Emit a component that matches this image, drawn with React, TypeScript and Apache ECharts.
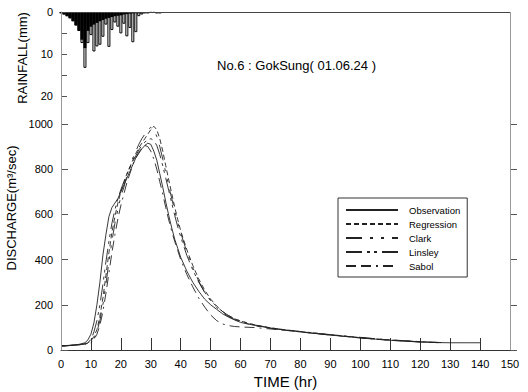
import React, { useEffect, useRef } from "react";
import * as echarts from "echarts";

// ---------- Rainfall (hourly, mm) ----------
const rainHours = [0,1,2,3,4,5,6,7,8,9,10,11,12,13,14,15,16,17,18,19,20,21,22,23,24,25,26,27,28,29,30,31,32,33];
const rainTotal = [0.3,0.6,1.0,1.5,2.2,3.2,4.5,7.4,13.3,7.4,5.5,9.4,8.2,7.8,5.9,3.0,8.3,4.3,2.5,3.5,5.1,2.8,5.8,3.8,7.2,4.8,1.0,0.6,0.3,0.3,0.2,0.2,0.3,0.3];
const rainLoss = [0.3,0.6,1.0,1.5,2.2,3.2,4.5,6.6,8.6,4.5,3.5,3.0,2.6,2.2,1.9,1.6,1.4,1.2,1.0,0.9,0.8,0.6,0.5,0.4,0.35,0.3,0.3,0.3,0.3,0.3,0.2,0.2,0.3,0.3];

// ---------- Discharge (m3/sec) ----------
const obsTimes = [0,2,4,6,8,9,10,11,12,13,14,15,16,17,18,19,20,21,22,23,24,25,26,27,28,29,30,31,32,33,34,35,36,37,38,39,40,42,44,46,48,50,52,54,56,58,60,65,70,75,80,85,90,95,100,105,110,115,120,125,130,135,140];
const observation = [18,20,22,25,32,45,70,120,200,300,420,510,590,630,650,670,700,730,760,790,820,850,870,890,905,915,910,880,840,780,720,655,595,540,490,450,410,350,300,260,225,200,180,160,145,133,122,108,97,88,80,73,66,60,53,48,43,39,35,33,32,32,32];

const modelTimes = [0,2,4,6,8,9,10,11,12,13,14,15,16,17,18,19,20,21,22,23,24,25,26,27,28,29,30,31,32,33,34,35,36,37,38,39,40,42,44,46,48,50,52,54,56,58,60,65,70,75,80,85,90,95,100,105,110,115,120,125,127];
const regression = [18,19,21,23,27,32,40,60,90,150,230,330,430,520,590,650,700,740,780,810,840,870,895,915,935,955,975,990,975,935,880,815,752,692,632,577,527,445,375,315,265,225,195,170,152,138,128,110,98,89,81,74,67,61,55,49,44,40,37,34,33];
const clark = [18,19,21,23,26,30,36,50,80,130,200,290,390,480,560,620,680,720,770,810,850,880,910,935,955,975,985,975,945,900,845,785,725,670,615,565,518,435,365,305,255,218,188,165,148,135,124,107,96,88,81,74,67,61,55,49,44,40,36,34,33];
const linsley = [18,19,21,24,28,35,45,80,130,200,290,390,480,560,620,670,710,745,775,805,835,860,885,905,920,930,935,928,905,865,815,760,705,650,595,545,500,420,355,300,255,220,192,170,152,139,128,110,98,89,82,75,68,62,56,50,45,41,37,34,33];
const sabol = [18,19,21,23,26,28,32,45,70,110,170,250,340,430,510,580,640,690,740,780,820,850,875,893,905,900,880,845,800,745,690,630,575,525,480,440,400,335,280,230,190,155,130,115,108,104,102,99,93,87,80,73,66,60,54,48,43,39,36,33,32];

const seriesNames = ["Observation", "Regression", "Clark", "Linsley", "Sabol"];
const FONT = "'Liberation Sans', Arial, sans-serif";

const pairs = (t: number[], v: number[]) => t.map((x, i) => [x, v[i]]);

export default function App() {
  const ref = useRef<HTMLDivElement>(null);
  useEffect(() => {
    if (!ref.current) return;
    const chart = echarts.init(ref.current, undefined, { renderer: "svg" });
    const lineSeries = (name: string, t: number[], v: number[], dash: any) => ({
      name,
      type: "line",
      xAxisIndex: 1,
      yAxisIndex: 1,
      data: pairs(t, v),
      symbol: "none",
      lineStyle: { color: "#222", width: 0.9, type: dash },
      z: 3,
    });
    chart.setOption({
      animation: false,
      textStyle: { fontFamily: FONT },
      title: {
        text: "No.6 : GokSung( 01.06.24 )",
        left: 217,
        top: 59,
        padding: 0,
        textStyle: { fontSize: 13, fontWeight: "normal", color: "#000", fontFamily: FONT },
      },
      legend: {
        data: seriesNames,
        orient: "vertical",
        left: 338,
        top: 198,
        itemWidth: 52,
        itemHeight: 10,
        itemGap: 4,
        padding: [7, 7, 6, 7],
        borderColor: "#333",
        borderWidth: 1,
        selectedMode: false,
        itemStyle: { opacity: 0 },
        textStyle: { fontSize: 9.5, color: "#000", padding: [0, 0, 0, 6], fontFamily: FONT },
      },
      grid: [
        { left: 61, top: 12, width: 449, height: 84, outerBoundsMode: "none", containLabel: false },
        { left: 61, top: 124, width: 449, height: 226, outerBoundsMode: "none", containLabel: false },
      ],
      xAxis: [
        { gridIndex: 0, type: "value", min: 0, max: 150, show: false },
        {
          gridIndex: 1,
          type: "value",
          min: 0,
          max: 150,
          interval: 10,
          name: "TIME (hr)",
          nameLocation: "middle",
          nameGap: 23,
          nameTextStyle: { fontSize: 15, color: "#000", fontFamily: FONT },
          axisLine: { show: true, lineStyle: { color: "#333" } },
          axisTick: { inside: true, length: 12, lineStyle: { color: "#333" } },
          axisLabel: { fontSize: 11, color: "#000", margin: 8 },
          splitLine: { show: false },
        },
      ],
      yAxis: [
        {
          gridIndex: 0,
          type: "value",
          inverse: true,
          min: 0,
          max: 20,
          interval: 5,
          name: "RAINFALL(mm)",
          nameLocation: "middle",
          nameRotate: 90,
          nameGap: 32,
          nameTextStyle: { fontSize: 13, color: "#000", fontFamily: FONT, padding: [0, 8, 0, 0] },
          axisLine: { show: true, lineStyle: { color: "#999" } },
          axisTick: { inside: true, length: 6, lineStyle: { color: "#555" } },
          axisLabel: {
            fontSize: 11,
            color: "#000",
            margin: 8,
            formatter: (v: number) => (v % 10 === 0 ? String(v) : ""),
          },
          splitLine: { show: false },
        },
        {
          gridIndex: 1,
          type: "value",
          min: 0,
          max: 1000,
          interval: 200,
          name: "DISCHARGE(m³/sec)",
          nameLocation: "middle",
          nameRotate: 90,
          nameGap: 29,
          nameTextStyle: { fontSize: 13, color: "#000", fontFamily: FONT, padding: [0, 0, 0, 58] },
          axisLine: { show: true, lineStyle: { color: "#999" } },
          axisTick: { inside: true, length: 7, lineStyle: { color: "#555" } },
          axisLabel: { fontSize: 11, color: "#000", margin: 8, formatter: (v: number) => String(v) },
          splitLine: { show: false },
        },
        {
          gridIndex: 1,
          type: "value",
          min: 0,
          max: 1000,
          interval: 200,
          axisLine: { show: false },
          axisTick: { inside: false, length: 7, lineStyle: { color: "#555" } },
          axisLabel: { show: false },
          splitLine: { show: false },
        },
      ],
      graphic: [
        { type: "line", shape: { x1: 61, y1: 12.5, x2: 510, y2: 12.5 }, style: { stroke: "#444", lineWidth: 1 }, z: 10 },
        { type: "line", shape: { x1: 510.5, y1: 12, x2: 510.5, y2: 350 }, style: { stroke: "#999", lineWidth: 1 }, z: 10 },
        { type: "line", shape: { x1: 61.5, y1: 12, x2: 61.5, y2: 350 }, style: { stroke: "#999", lineWidth: 1 }, z: 10 },
      ],
      series: [
        {
          type: "bar",
          xAxisIndex: 0,
          yAxisIndex: 0,
          data: pairs(rainHours, rainTotal),
          barWidth: 3,
          barGap: "-100%",
          itemStyle: { color: "#fff", borderColor: "#000", borderWidth: 1 },
        },
        {
          type: "bar",
          xAxisIndex: 0,
          yAxisIndex: 0,
          data: pairs(rainHours, rainLoss),
          barWidth: 3,
          barGap: "-100%",
          itemStyle: { color: "#000" },
        },
        lineSeries("Observation", obsTimes, observation, "solid"),
        lineSeries("Regression", modelTimes, regression, [5, 3]),
        lineSeries("Clark", modelTimes, clark, [16, 8, 3, 8, 3, 8]),
        lineSeries("Linsley", modelTimes, linsley, [16, 5, 3, 4, 3, 5]),
        lineSeries("Sabol", modelTimes, sabol, [10, 5, 10, 5, 2, 5]),
      ],
    });
    return () => chart.dispose();
  }, []);
  return (
    <div
      ref={ref}
      style={{ position: "fixed", left: 0, top: 0, width: 528, height: 392, background: "#fff" }}
    />
  );
}
